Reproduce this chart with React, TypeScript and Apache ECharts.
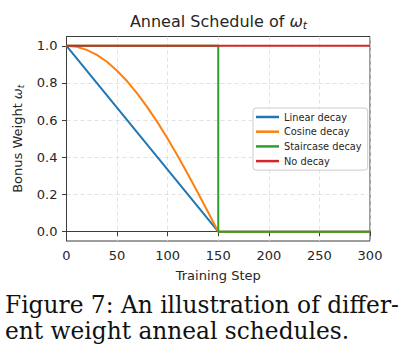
import React, { useEffect, useRef } from "react";
import * as echarts from "echarts";

const seriesNames = ["Linear decay", "Cosine decay", "Staircase decay", "No decay"];
const seriesColors = ["#1f77b4", "#ff7f0e", "#2ca02c", "#d62728"];

const linearSteps = [0, 150, 300];
const linearValues = [1.0, 0.0, 0.0];

const cosineSteps = [0, 10, 20, 30, 40, 50, 60, 70, 80, 90, 100, 110, 120, 130, 140, 150, 300];
const cosineValues = [1.0, 0.995, 0.978, 0.951, 0.914, 0.866, 0.809, 0.743, 0.669, 0.588, 0.5, 0.407, 0.309, 0.208, 0.105, 0.0, 0.0];

const staircaseSteps = [0, 150, 150, 300];
const staircaseValues = [1.0, 1.0, 0.0, 0.0];

const noDecaySteps = [0, 300];
const noDecayValues = [1.0, 1.0];

const yTicks = [0.0, 0.2, 0.4, 0.6, 0.8, 1.0];
const xTicks = [0, 50, 100, 150, 200, 250, 300];

const captionLines = ["Figure 7: An illustration of differ-", "ent weight anneal schedules."];

const zip = (xs: number[], ys: number[]) => xs.map((x, i) => [x, ys[i]]);

export default function App() {
  const ref = useRef<HTMLDivElement>(null);
  useEffect(() => {
    if (!ref.current) return;
    const chart = echarts.init(ref.current, null, { renderer: "svg" });
    const font = "DejaVu Sans";
    const ink = "#262626";
    const spine = "#3d3d3d";
    const seriesData = [
      zip(linearSteps, linearValues),
      zip(cosineSteps, cosineValues),
      zip(staircaseSteps, staircaseValues),
      zip(noDecaySteps, noDecayValues),
    ];
    chart.setOption({
      animation: false,
      backgroundColor: "#ffffff",
      grid: {
        left: 66.5,
        top: 36.5,
        width: 303.5,
        height: 204.5,
        show: true,
        borderColor: spine,
        borderWidth: 1,
        backgroundColor: "transparent",
      },
      xAxis: {
        type: "value",
        min: 0,
        max: 300,
        interval: 50,
        name: "Training Step",
        nameLocation: "middle",
        nameGap: 28,
        nameTextStyle: { fontFamily: font, fontSize: 13, color: ink },
        axisLine: { show: true, lineStyle: { color: spine, width: 1 } },
        axisTick: { show: true, length: 4.5, lineStyle: { color: spine, width: 1 } },
        axisLabel: {
          fontFamily: font,
          fontSize: 13,
          color: ink,
          margin: 8,
          customValues: xTicks,
        },
        splitLine: { show: true, lineStyle: { color: "#dadada", type: [4, 3], width: 0.8 } },
      },
      yAxis: {
        type: "value",
        min: -0.05,
        max: 1.05,
        name: "{a|Bonus Weight }{w|ω}{s|t}",
        nameLocation: "middle",
        nameGap: 37,
        nameTextStyle: {
          rich: {
            a: { fontFamily: font, fontSize: 13, color: ink, lineHeight: 16 },
            w: { fontFamily: font, fontSize: 13, fontStyle: "italic", color: ink, lineHeight: 16 },
            s: { fontFamily: font, fontSize: 9, fontStyle: "italic", color: ink, lineHeight: 8, verticalAlign: "bottom" },
          },
        },
        axisLine: { show: true, lineStyle: { color: spine, width: 1 } },
        axisTick: { show: true, length: 4.5, customValues: yTicks, lineStyle: { color: spine, width: 1 } },
        axisLabel: {
          fontFamily: font,
          fontSize: 13,
          color: ink,
          margin: 9,
          customValues: yTicks,
          formatter: (v: number) => v.toFixed(1),
        },
        splitLine: { show: true, lineStyle: { color: "#dadada", type: [4, 3], width: 0.8 } },
      },
      legend: {
        left: 253,
        top: 108,
        orient: "vertical",
        icon: "rect",
        itemWidth: 23,
        itemHeight: 2.5,
        itemGap: 2.7,
        padding: [3, 6, 3, 3],
        borderColor: "#cccccc",
        borderWidth: 1,
        borderRadius: 3,
        backgroundColor: "rgba(255,255,255,0.85)",
        textStyle: { fontFamily: font, fontSize: 9.8, color: ink, lineHeight: 12 },
        data: seriesNames,
      },
      series: seriesNames.map((name, i) => ({
        name,
        type: "line",
        data: seriesData[i],
        showSymbol: false,
        symbol: "none",
        clip: false,
        color: seriesColors[i],
        lineStyle: { color: seriesColors[i], width: 2 },
        z: 2 + i,
      })),
      graphic: [
        {
          type: "text",
          x: 218.5,
          y: 21,
          style: {
            text: "{a|Anneal Schedule of }{w|ω}{s|t}",
            align: "center",
            verticalAlign: "middle",
            rich: {
              a: { fontFamily: font, fontSize: 16, fill: ink, lineHeight: 20 },
              w: { fontFamily: font, fontSize: 16, fontStyle: "italic", fill: ink, lineHeight: 20 },
              s: { fontFamily: font, fontSize: 11, fontStyle: "italic", fill: ink, lineHeight: 9, verticalAlign: "bottom" },
            },
          },
        },
        {
          type: "text",
          x: 5,
          y: 293,
          style: {
            text: captionLines[0],
            fontFamily: "DejaVu Serif",
            fontSize: 23.3,
            fill: "#111111",
            verticalAlign: "top",
          },
        },
        {
          type: "text",
          x: 5,
          y: 318.5,
          style: {
            text: captionLines[1],
            fontFamily: "DejaVu Serif",
            fontSize: 23.3,
            fill: "#111111",
            verticalAlign: "top",
          },
        },
      ],
    });
    return () => chart.dispose();
  }, []);
  return <div ref={ref} style={{ position: "fixed", left: 0, top: 0, width: 404, height: 356 }} />;
}
